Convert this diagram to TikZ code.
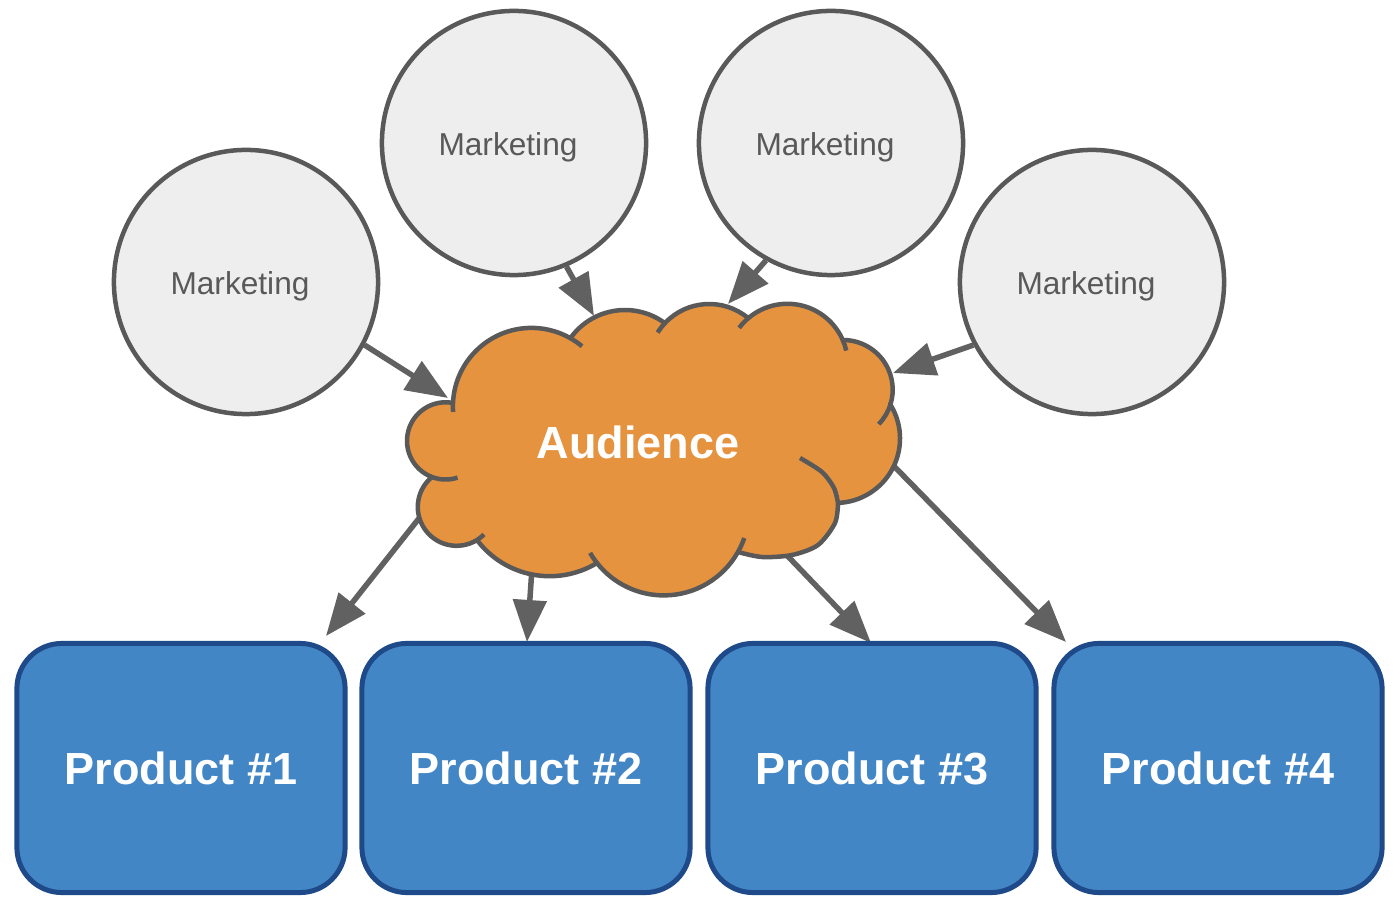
\documentclass[tikz,border=0pt]{standalone}
\usepackage{fontspec}
\setmainfont{Liberation Sans}
\usetikzlibrary{arrows.meta,backgrounds,calc}
\definecolor{mkfill}{HTML}{EEEEEE}
\definecolor{mkline}{HTML}{595959}
\definecolor{cloudfill}{HTML}{E69340}
\definecolor{arrowcol}{HTML}{616161}
\definecolor{prodfill}{HTML}{4386C5}
\definecolor{prodline}{HTML}{1F4A8A}
\begin{document}
\begin{tikzpicture}[x=0.01cm,y=-0.01cm,
  mkt/.style={circle, draw=mkline, fill=mkfill, line width=0.45mm, minimum size=2.64cm, inner sep=0pt,
    label={[mklabel]center:Marketing}},
  mklabel/.style={text=mkline, font=\fontsize{9}{11}\selectfont, inner sep=0pt, xshift=-0.6mm, yshift=-0.4mm},
  prod/.style={rectangle, rounded corners=0.45cm, draw=prodline, fill=prodfill, line width=0.5mm,
    minimum width=3.28cm, minimum height=2.49cm, text=white, font=\fontsize{12.8}{15}\selectfont\bfseries},
  audtext/.style={text=white, font=\fontsize{12.8}{15}\selectfont\bfseries, inner sep=0pt},
  arr/.style={draw=arrowcol, line width=0.55mm, -{Triangle[length=4.2mm,width=3.3mm]}},
  cloudline/.style={draw=mkline, line width=0.45mm},
]
\useasboundingbox (0,0) rectangle (1400,910);

% marketing circles
\node[mkt] (m1) at (246,282) {};
\node[mkt] (m2) at (514,143) {};
\node[mkt] (m3) at (831,143) {};
\node[mkt] (m4) at (1092,282) {};

% audience cloud
\filldraw[cloudline, fill=cloudfill, line join=round]
  ($(531.5,406.5)+(182.6:78.6)$) arc[start angle=182.6, end angle=299.3, radius=78.6]
  -- ($(625,377)+(215.3:67)$) arc[start angle=215.3, end angle=306.5, radius=67]
  -- ($(709.2,364.8)+(223.4:60.8)$) arc[start angle=223.4, end angle=309.7, radius=60.8]
  -- ($(787.4,364.2)+(229.5:60.4)$) arc[start angle=229.5, end angle=336.5, radius=60.4]
  -- ($(843,389.7)+(270:49.7)$) arc[start angle=270, end angle=376.9, radius=49.7]
  -- ($(835.5,438.5)+(-32.3:64.5)$) arc[start angle=-32.3, end angle=87.8, radius=64.5]
  -- plot[smooth] coordinates {(838,503) (835,523) (818,545) (792,555) (762,557) (738,552)}
  -- ($(663.8,510.3)+(29.3:85.1)$) arc[start angle=29.3, end angle=141.7, radius=85.1]
  -- ($(549.7,485)+(58.8:91.2)$) arc[start angle=58.8, end angle=142.9, radius=91.2]
  -- ($(456.6,507)+(58.3:38.8)$) arc[start angle=58.3, end angle=230.4, radius=38.8]
  -- ($(445.6,440.9)+(110.6:38.6)$) arc[start angle=110.6, end angle=281.1, radius=38.6]
  -- cycle;
% inner strokes of the cloud
\draw[cloudline] ($(531.5,406.5)+(299.3:78.6)$) arc[start angle=299.3, end angle=310, radius=78.6];
\draw[cloudline] ($(709.2,364.8)+(223.4:60.8)$) arc[start angle=223.4, end angle=212, radius=60.8];
\draw[cloudline] ($(787.4,364.2)+(229.5:60.4)$) arc[start angle=229.5, end angle=217, radius=60.4];
\draw[cloudline] ($(787.4,364.2)+(336.5:60.4)$) arc[start angle=336.5, end angle=347, radius=60.4];
\draw[cloudline] ($(843,389.7)+(16.9:49.7)$) arc[start angle=16.9, end angle=44, radius=49.7];
\draw[cloudline] plot[smooth] coordinates {(800,458) (822,472) (834,488) (838,503)};
\draw[cloudline] ($(663.8,510.3)+(29.3:85.1)$) arc[start angle=29.3, end angle=19, radius=85.1];
\draw[cloudline] ($(663.8,510.3)+(141.7:85.1)$) arc[start angle=141.7, end angle=150, radius=85.1];
\draw[cloudline] ($(456.6,507)+(58.3:38.8)$) arc[start angle=58.3, end angle=45, radius=38.8];
\draw[cloudline] ($(445.6,440.9)+(110.6:38.6)$) arc[start angle=110.6, end angle=72, radius=38.6];
\draw[cloudline] ($(531.5,406.5)+(182.6:78.6)$) arc[start angle=182.6, end angle=176, radius=78.6];
\node[audtext] (aud) at (638,442) {Audience};

% products
\node[prod] (p1) at (181,768) {Product \#1};
\node[prod] (p2) at (526,768) {Product \#2};
\node[prod] (p3) at (872,768) {Product \#3};
\node[prod] (p4) at (1218,768) {Product \#4};

% connector end points on the cloud and at the products
\coordinate (c1) at (448,398);
\coordinate (c2) at (594,316);
\coordinate (c3) at (728,304);
\coordinate (c4) at (893,373);
\coordinate (s5) at (424,512);
\coordinate (s6) at (532,568);
\coordinate (s7) at (778,546);
\coordinate (s8) at (886,458);
\coordinate (t5) at (326,636);
\coordinate (t6) at (527,642);
\coordinate (t7) at (871,643);
\coordinate (t8) at (1066,642);

\begin{pgfonlayer}{background}
\fill[white] (0,0) rectangle (1400,910);
\draw[arr] (m1.-28) -- (c1);
\draw[arr] (m2.-67) -- (c2);
\draw[arr] (m3.-119) -- (c3);
\draw[arr] (m4.-152) -- (c4);
\draw[arr] (s5) -- (t5);
\draw[arr] (s6) -- (t6);
\draw[arr] (s7) -- (t7);
\draw[arr] (s8) -- (t8);
\end{pgfonlayer}
\end{tikzpicture}
\end{document}
